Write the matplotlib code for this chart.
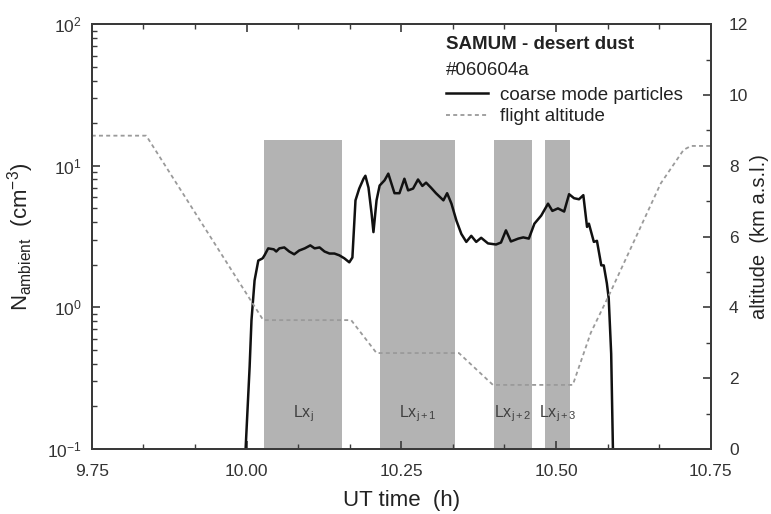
import matplotlib
matplotlib.use("Agg")
import matplotlib.pyplot as plt
from matplotlib.ticker import MultipleLocator, LogLocator, NullFormatter

plt.rcParams['font.family'] = ['Liberation Sans', 'DejaVu Sans']
plt.rcParams['mathtext.fontset'] = 'custom'
plt.rcParams['mathtext.rm'] = 'Liberation Sans'
plt.rcParams['mathtext.it'] = 'Liberation Sans'
plt.rcParams['mathtext.bf'] = 'Liberation Sans:bold'

# ---- data ----
time_h = [9.998, 10.005, 10.008, 10.013, 10.019, 10.026, 10.029, 10.035, 10.044, 10.048,
          10.053, 10.061, 10.069, 10.077, 10.085, 10.094, 10.103, 10.110, 10.118, 10.126,
          10.134, 10.142, 10.150, 10.158, 10.166, 10.171, 10.176, 10.182, 10.189, 10.192,
          10.197, 10.202, 10.205, 10.210, 10.215, 10.223, 10.229, 10.234, 10.239, 10.247,
          10.255, 10.261, 10.269, 10.277, 10.284, 10.290, 10.298, 10.306, 10.318, 10.324,
          10.331, 10.339, 10.347, 10.355, 10.363, 10.371, 10.379, 10.390, 10.403, 10.411,
          10.419, 10.427, 10.439, 10.447, 10.456, 10.465, 10.476, 10.487, 10.494, 10.503,
          10.513, 10.521, 10.529, 10.537, 10.544, 10.550, 10.553, 10.561, 10.566, 10.573,
          10.577, 10.582, 10.585, 10.589, 10.592]
coarse = [0.09, 0.38, 0.81, 1.55, 2.14, 2.22, 2.33, 2.61, 2.57, 2.48,
          2.61, 2.65, 2.48, 2.37, 2.52, 2.61, 2.74, 2.61, 2.65, 2.48,
          2.40, 2.40, 2.33, 2.22, 2.08, 2.25, 5.7, 6.9, 8.1, 8.5,
          7.0, 4.6, 3.4, 5.7, 7.25, 7.9, 8.8, 7.5, 6.4, 6.4,
          8.1, 6.7, 6.9, 8.0, 7.2, 7.6, 7.0, 6.4, 5.7, 6.4,
          5.4, 4.1, 3.3, 2.9, 3.2, 2.9, 3.1, 2.83, 2.78, 2.87,
          3.5, 2.92, 3.06, 3.12, 3.06, 3.9, 4.45, 5.4, 4.8, 5.0,
          4.75, 6.3, 5.9, 5.8, 6.2, 3.7, 3.9, 2.9, 2.95, 1.98,
          1.98, 1.48, 1.16, 0.47, 0.09]

alt_time = [9.75, 9.838, 10.027, 10.169, 10.210, 10.343, 10.398, 10.527,
            10.556, 10.587, 10.632, 10.669, 10.706, 10.718, 10.75]
altitude = [8.85, 8.85, 3.64, 3.64, 2.71, 2.71, 1.81, 1.81,
            3.28, 4.4, 6.1, 7.5, 8.45, 8.56, 8.56]

leg_start = [10.029, 10.215, 10.400, 10.482]
leg_end = [10.155, 10.337, 10.461, 10.523]
leg_labels = ['Lx$_{\\mathrm{j}}$', 'Lx$_{\\mathrm{j+1}}$', 'Lx$_{\\mathrm{j+2}}$', 'Lx$_{\\mathrm{j+3}}$']
band_top = 15.1

# ---- figure ----
fig = plt.figure(figsize=(7.71, 5.14), dpi=100)
ax = fig.add_axes([0.119, 0.1265, 0.803, 0.8265])
ax2 = ax.twinx()

spine_c = '#3a3a3a'
for a in (ax, ax2):
    for s in a.spines.values():
        s.set_color(spine_c)
        s.set_linewidth(1.4)

for x0, x1, lab in zip(leg_start, leg_end, leg_labels):
    ax.fill_between([x0, x1], 0.05, band_top, color='#b3b3b3', lw=0, zorder=1)
    ax.text((x0 + x1) / 2, 0.178, lab, ha='center', va='center', fontsize=11.5,
            color='#404040', zorder=3)

l1, = ax.plot(time_h, coarse, color='#111111', lw=1.8, zorder=4,
              label='coarse mode particles')
l2, = ax2.plot(alt_time, altitude, color='#9a9a9a', lw=1.3, dashes=(2.2, 1.8),
               label='flight altitude')

ax.set_yscale('log')
ax.set_ylim(0.1, 100)
ax.set_xlim(9.75, 10.75)
ax2.set_ylim(0, 12)

ax.set_xticks([9.75, 10.0, 10.25, 10.5, 10.75])
ax.set_xticklabels(['9.75', '10.00', '10.25', '10.50', '10.75'])
ax.xaxis.set_minor_locator(MultipleLocator(1 / 12))
ax.yaxis.set_major_locator(LogLocator(base=10, numticks=10))
ax.yaxis.set_minor_locator(LogLocator(base=10, subs=range(2, 10), numticks=20))
ax.yaxis.set_minor_formatter(NullFormatter())
ax2.yaxis.set_major_locator(MultipleLocator(2))
ax2.yaxis.set_minor_locator(MultipleLocator(1))

ax.tick_params(axis='x', which='both', direction='in', top=True, bottom=True,
               labelsize=12.5, color=spine_c, pad=11)
ax.tick_params(axis='y', which='both', direction='in', left=True, right=False,
               labelsize=12.5, color=spine_c, pad=7)
ax.tick_params(which='major', length=6, width=1.2)
ax.tick_params(which='minor', length=3.5, width=1.0)
ax2.tick_params(axis='y', which='both', direction='in', right=True,
                labelsize=12.5, color=spine_c, pad=13)
ax2.tick_params(which='major', length=6, width=1.2)
ax2.tick_params(which='minor', length=3.5, width=1.0)
for lab in ax.get_xticklabels() + ax.get_yticklabels() + ax2.get_yticklabels():
    lab.set_color('#333333')

ax.set_xlabel('UT time  (h)', fontsize=16, color='#222222', labelpad=8)
ax.set_ylabel('N$_{\\mathrm{ambient}}$  (cm$^{\\mathrm{-3}}$)', fontsize=16,
              color='#222222', labelpad=8)
ax2.set_ylabel('altitude  (km a.s.l.)', fontsize=14.5, color='#222222')
ax2.yaxis.set_label_coords(1.064, 0.5)

ax.text(0.572, 0.951, 'SAMUM - desert dust', transform=ax.transAxes, fontsize=13.5,
        fontweight='bold', color='#222222', va='center', ha='left', zorder=6)
ax.text(0.572, 0.892, '#060604a', transform=ax.transAxes, fontsize=13.5,
        color='#222222', va='center', ha='left', zorder=6)
ax2.legend(handles=[l1, l2], loc='upper left', bbox_to_anchor=(0.551, 0.884),
           frameon=False, fontsize=13.5, handlelength=2.25, handletextpad=0.65,
           labelspacing=0.25, borderpad=0.2, labelcolor='#222222')

fig.savefig('out.png', dpi=100)
